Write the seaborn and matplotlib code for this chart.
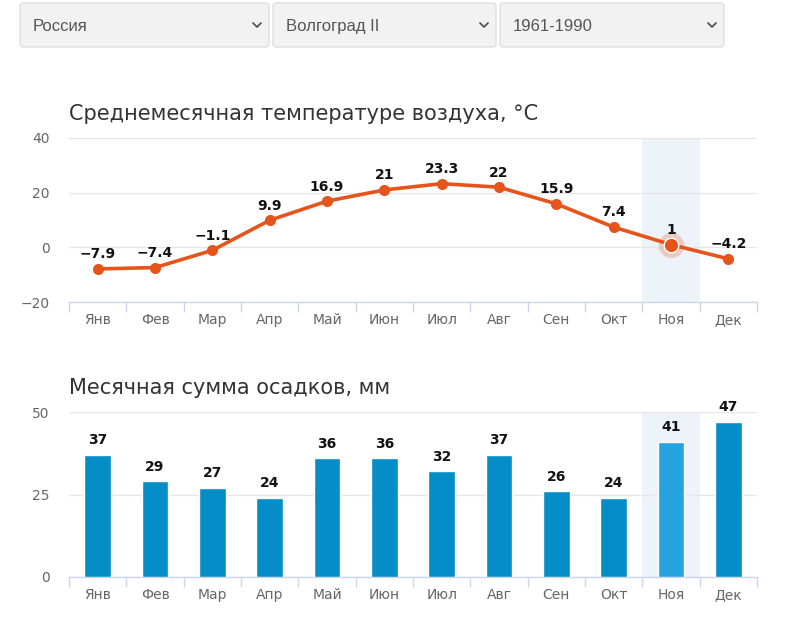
import matplotlib
matplotlib.use("Agg")
import matplotlib.pyplot as plt
import seaborn as sns
import pandas as pd
from matplotlib.patches import FancyBboxPatch
from matplotlib.lines import Line2D

months = ["Янв", "Фев", "Мар", "Апр", "Май", "Июн", "Июл", "Авг", "Сен", "Окт", "Ноя", "Дек"]
temperature = [-7.9, -7.4, -1.1, 9.9, 16.9, 21, 23.3, 22, 15.9, 7.4, 1, -4.2]
precipitation = [37, 29, 27, 24, 36, 36, 32, 37, 26, 24, 41, 47]
temp_ticks = [-20, 0, 20, 40]
prec_ticks = [0, 25, 50]
dropdowns = ["Россия", "Волгоград II", "1961-1990"]
title_temp = "Среднемесячная температуре воздуха, °C"
title_prec = "Месячная сумма осадков, мм"
highlight = 10  # Ноя

W, H = 789, 619
sns.set_theme(style="white")
plt.rcParams['font.family'] = ['DejaVu Sans']

fig = plt.figure(figsize=(W / 100, H / 100), dpi=100)
fig.patch.set_facecolor("white")

def fx(x):
    return x / W

def fy(y):
    return 1 - y / H

# dropdowns
boxes = [(20, 269), (273, 496), (500, 724)]
for (x0, x1), txt in zip(boxes, dropdowns):
    p = FancyBboxPatch((fx(x0), fy(47)), fx(x1 - x0), (44) / H,
                       boxstyle="round,pad=0,rounding_size=0.005",
                       transform=fig.transFigure, facecolor="#f2f2f2",
                       edgecolor="#dedede", linewidth=1)
    fig.patches.append(p)
    fig.text(fx(x0 + 13), fy(31), txt, fontsize=12, color="#555555",
             va="baseline", ha="left", family="Liberation Sans")
    cx = x1 - 12
    fig.lines.append(Line2D([fx(cx - 4), fx(cx), fx(cx + 4)], [fy(23), fy(27), fy(23)],
                            transform=fig.transFigure, color="#555555", lw=1.3))

AX_COLOR = "#ccd6eb"
GRID = "#e6e6e6"
LABEL = "#666666"

def style_axis(ax, ymin, ymax, yticks):
    ax.set_xlim(-0.5, 11.5)
    ax.set_ylim(ymin, ymax)
    ax.set_yticks(yticks)
    ax.set_yticklabels([str(t).replace("-", "−") for t in yticks], color=LABEL, fontsize=10)
    ax.yaxis.grid(True, color=GRID, lw=1)
    ax.set_axisbelow(True)
    for s in ["left", "right", "top"]:
        ax.spines[s].set_visible(False)
    ax.spines["bottom"].set_color(AX_COLOR)
    ax.spines["bottom"].set_linewidth(1)
    ax.set_xticks(range(12))
    ax.set_xticklabels(months, color=LABEL, fontsize=10)
    ax.set_xticks([i - 0.5 for i in range(13)], minor=True)
    ax.tick_params(axis="x", which="major", length=0, pad=8)
    ax.tick_params(axis="x", which="minor", length=7, color=AX_COLOR, width=1, direction="out", bottom=True)
    ax.tick_params(axis="y", length=0, pad=14)
    ax.set_xlabel("")
    ax.set_ylabel("")
    ax.axvspan(highlight - 0.5, highlight + 0.5, color="#eef2f9", zorder=0, lw=0)

# temperature chart
ax1 = fig.add_axes([fx(69), fy(302), fx(757 - 69), (302 - 138) / H])
df_t = pd.DataFrame({"x": range(12), "t": temperature})
sns.lineplot(data=df_t, x="x", y="t", ax=ax1, color="#e5541b", lw=2.6,
             marker="o", markersize=8, markeredgewidth=0, zorder=3)
ax1.scatter([highlight], [temperature[highlight]], s=330, color="#e5541b", alpha=0.25, lw=0, zorder=4)
ax1.scatter([highlight], [temperature[highlight]], s=110, color="#e5541b", edgecolor="white", lw=1, zorder=5)
style_axis(ax1, -20, 40, temp_ticks)
for i, v in enumerate(temperature):
    lbl = (f"{v:g}").replace("-", "−")
    ax1.annotate(lbl, (i, v), xytext=(0, 5.5), textcoords="offset points",
                 ha="center", va="bottom", fontsize=10, fontweight="bold", color="#111111", zorder=6)
fig.text(fx(69), fy(114), title_temp, fontsize=15, color="#333333", va="center", ha="left")

# precipitation chart
ax2 = fig.add_axes([fx(69), fy(577), fx(757 - 69), (577 - 412) / H])
df_p = pd.DataFrame({"m": months, "p": precipitation})
colors = ["#24a3de" if i == highlight else "#058dc7" for i in range(12)]
sns.barplot(data=df_p, x="m", y="p", hue="m", palette=colors, order=months,
            legend=False, ax=ax2, width=0.46, saturation=1, zorder=3)
style_axis(ax2, 0, 50, prec_ticks)
for i, v in enumerate(precipitation):
    ax2.annotate(f"{v:g}", (i, v), xytext=(0, 5.5), textcoords="offset points",
                 ha="center", va="bottom", fontsize=10, fontweight="bold", color="#111111", zorder=6,
                 annotation_clip=False)
fig.text(fx(69), fy(388), title_prec, fontsize=15, color="#333333", va="center", ha="left")

fig.savefig("out.png", dpi=100, facecolor="white")
